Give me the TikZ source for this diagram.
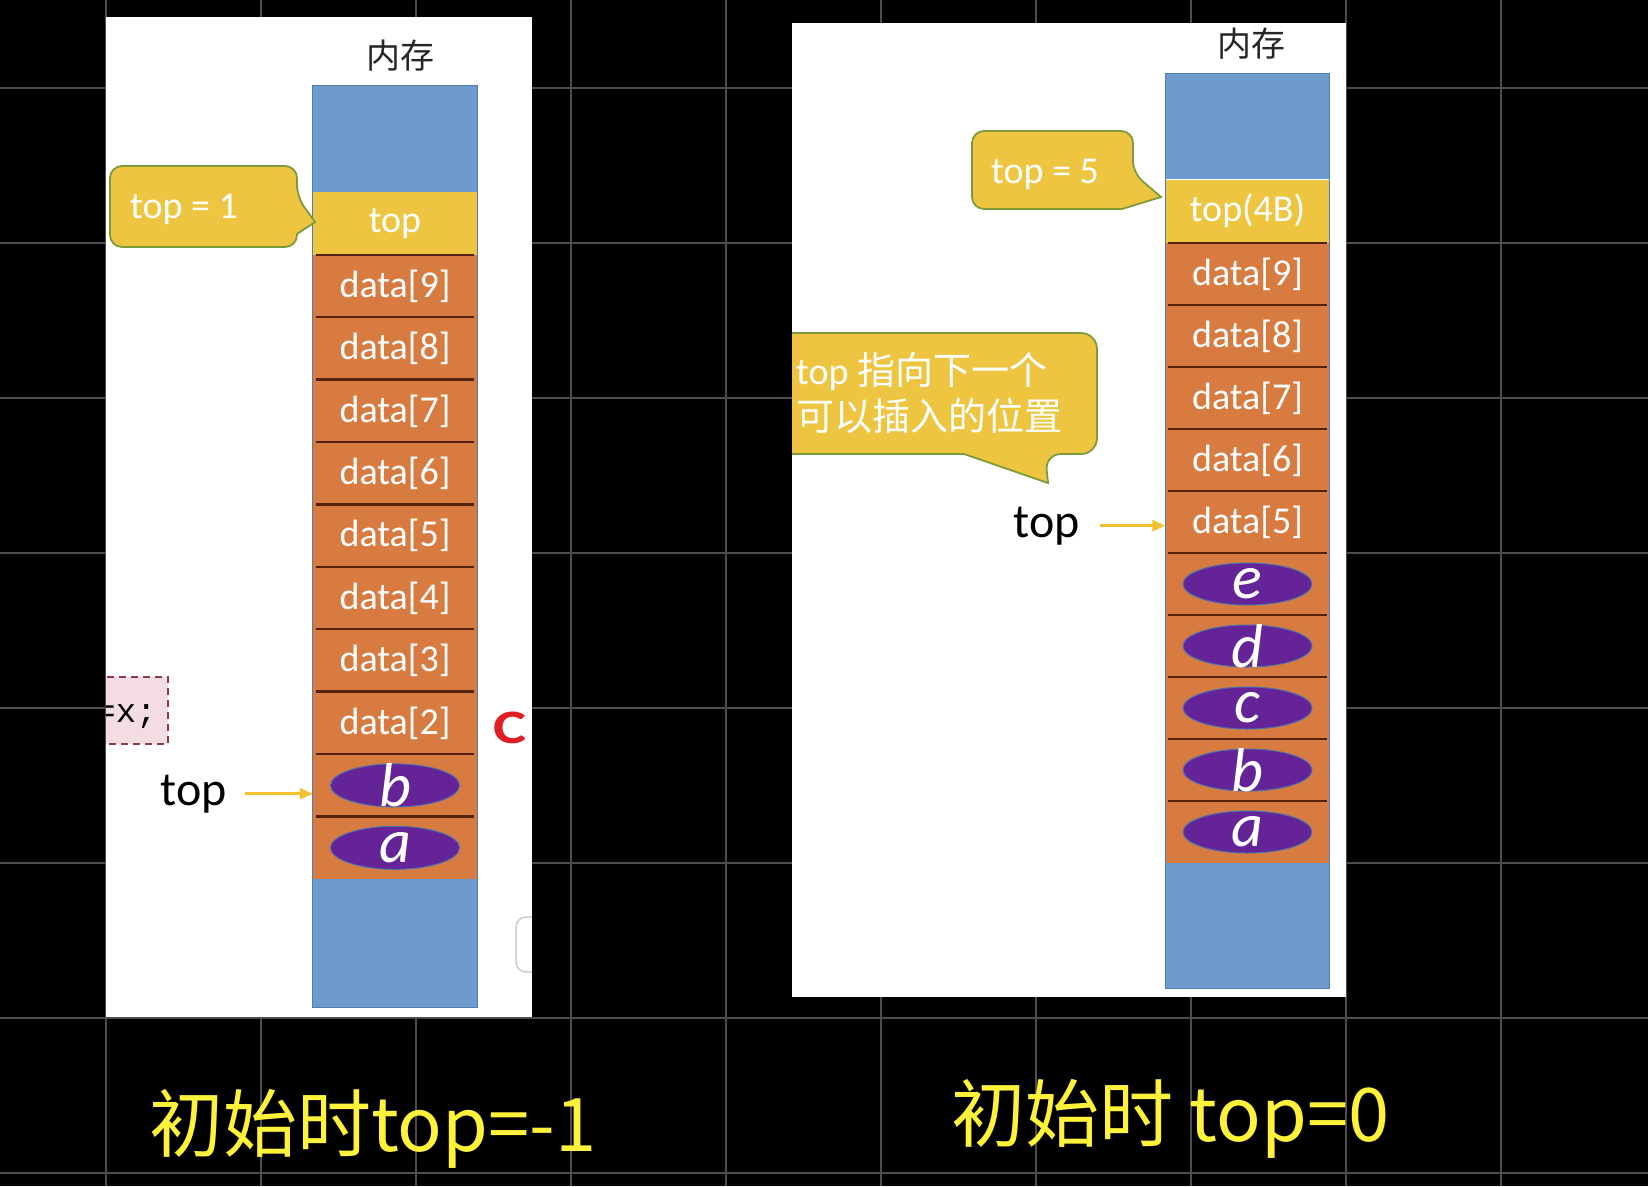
\documentclass[tikz,border=0pt]{standalone}
\usepackage{fontspec}
\setmainfont{Carlito}
\newfontfamily\cjk{Noto Sans CJK SC}
\newfontfamily\codefont{Liberation Mono}
\usetikzlibrary{shapes.geometric,arrows.meta}

\definecolor{memblue}{HTML}{6E9BCC}
\definecolor{colblue}{HTML}{4F7DB3}
\definecolor{memorange}{HTML}{D87B41}
\definecolor{memyellow}{HTML}{EEC541}
\definecolor{elpurple}{HTML}{642497}
\definecolor{elborder}{HTML}{4A6FB0}
\definecolor{sepbrown}{HTML}{55230D}
\definecolor{calloutgreen}{HTML}{7D9B3A}
\definecolor{arrowyellow}{HTML}{F2C12E}
\definecolor{handyellow}{HTML}{FFF23A}
\definecolor{gridgray}{HTML}{4D4D4D}
\definecolor{codepink}{HTML}{F4DDE2}
\definecolor{codered}{HTML}{8C3B4B}
\definecolor{markred}{HTML}{E01E24}

\tikzset{
  gridline/.style={draw=gridgray, line width=1.5pt},
  heading/.style={text=black!85, inner sep=0pt, anchor=base, font=\cjk\fontsize{34}{34}\selectfont},
  freeblock/.style={fill=memblue, minimum width=164pt, inner sep=0pt},
  cell/.style={fill=memorange, minimum width=164pt, minimum height=62.4pt, inner sep=0pt, text=white, font=\fontsize{38}{38}\selectfont},
  rcell/.style={cell, minimum height=62pt},
  topcell/.style={cell, fill=memyellow, minimum height=63pt},
  cellsep/.style={draw=sepbrown, line width=2.5pt},
  colline/.style={draw=colblue, line width=1pt},
  elem/.style={ellipse, fill=elpurple, draw=elborder, line width=1pt, minimum width=129pt, minimum height=43pt, inner sep=0pt},
  elemtext/.style={text=white, inner sep=0pt, font=\fontsize{62}{62}\itshape\selectfont},
  bubble/.style={fill=memyellow, draw=calloutgreen, line width=1.8pt},
  bubbletext/.style={text=white, inner sep=0pt, anchor=base, font=\fontsize{38}{38}\selectfont},
  notetext/.style={text=white, inner sep=0pt, anchor=base west, font=\fontsize{38}{38}\selectfont},
  toplabel/.style={text=black, inner sep=0pt, anchor=base, font=\fontsize{48}{48}\selectfont},
  ptr/.style={draw=arrowyellow, line width=2.5pt, -{Triangle[length=13pt,width=11pt]}},
  hand/.style={text=handyellow, inner sep=0pt, anchor=base west, font=\cjk\fontsize{74}{74}\selectfont},
}

\begin{document}
\begin{tikzpicture}[x=1pt,y=-1pt]
	\useasboundingbox (0,0) rectangle (1648,1186);
	\fill[black] (0,0) rectangle (1648,1186);
	\foreach \gx in {106,261,...,1501} \draw[gridline] (\gx,0) -- (\gx,1186);
	\foreach \gy in {88,243,...,1173} \draw[gridline] (0,\gy) -- (1648,\gy);

	% left panel
	\fill[white] (106,17) rectangle (532,1017);
	\begin{scope}
		\clip (106,17) rectangle (532,1017);
		\draw[codered, dash pattern=on 7pt off 5pt, line width=1.8pt, fill=codepink] (80,677) rectangle (168,744);
		\node[text=black, inner sep=0pt, anchor=base, font=\codefont\fontsize{34}{34}\selectfont] (code) at (126,722) {=x;};
		\draw[black!20, line width=1.5pt, rounded corners=10pt] (516,917) rectangle (560,972);
	\end{scope}
	\node[heading] (Lhead) at (400,68) {内存};
	\node[freeblock, minimum height=106pt] (Lfree) at (395,139) {};
	\node[topcell] (Ltop) at (395,223.5) {top};
	\node[cell] (Ld9) at (395,286.2) {data[9]};
	\node[cell] (Ld8) at (395,348.6) {data[8]};
	\node[cell] (Ld7) at (395,411) {data[7]};
	\node[cell] (Ld6) at (395,473.4) {data[6]};
	\node[cell] (Ld5) at (395,535.8) {data[5]};
	\node[cell] (Ld4) at (395,598.2) {data[4]};
	\node[cell] (Ld3) at (395,660.6) {data[3]};
	\node[cell] (Ld2) at (395,723) {data[2]};
	\node[cell] (Lc1) at (395,785.4) {};
	\node[cell] (Lc0) at (395,847.8) {};
	\node[freeblock, minimum height=128pt] (Lbot) at (395,943) {};
	\foreach \n in {Ld9,Ld8,Ld7,Ld6,Ld5,Ld4,Ld3,Ld2,Lc1,Lc0}
		\draw[cellsep] ([xshift=3pt]\n.north west) -- ([xshift=-3pt]\n.north east);
	\draw[colline] (Lfree.north west) rectangle (Lbot.south east);
	\node[elem, label={[elemtext]center:b}] (Lel-b) at (Lc1) {};
	\node[elem, label={[elemtext]center:a}] (Lel-a) at (Lc0) {};
	\draw[bubble, rounded corners=12pt] (110,166) -- (297,166) -- (297,197) [sharp corners] -- (315,222) -- (297,234) [rounded corners=12pt] -- (297,247) -- (110,247) -- cycle;
	\node[bubbletext] (Lval) at (184,218) {top = 1};
	\node[toplabel] (Ltoplab) at (194,805) {top};
	\draw[ptr] ([xshift=18pt]Ltoplab.east) -- (Ltoplab.east -| Lc1.west);
	\node[text=markred, inner sep=0pt, anchor=base, font=\bfseries\fontsize{48}{48}\selectfont] (mark) at (510,743) {\scalebox{1.3}[1]{C}};

	% right panel
	\fill[white] (792,23) rectangle (1346,997);
	\node[heading] (Rhead) at (1251,56) {内存};
	\node[freeblock, minimum height=105pt] (Rfree) at (1247.5,126.5) {};
	\node[topcell] (Rtop) at (1247.5,211) {top(4B)};
	\node[rcell] (Rd9) at (1247.5,274) {data[9]};
	\node[rcell] (Rd8) at (1247.5,336) {data[8]};
	\node[rcell] (Rd7) at (1247.5,398) {data[7]};
	\node[rcell] (Rd6) at (1247.5,460) {data[6]};
	\node[rcell] (Rd5) at (1247.5,522) {data[5]};
	\node[rcell] (Rc4) at (1247.5,584) {};
	\node[rcell] (Rc3) at (1247.5,646) {};
	\node[rcell] (Rc2) at (1247.5,708) {};
	\node[rcell] (Rc1) at (1247.5,770) {};
	\node[rcell] (Rc0) at (1247.5,832) {};
	\node[freeblock, minimum height=125pt] (Rbot) at (1247.5,925.5) {};
	\foreach \n in {Rd9,Rd8,Rd7,Rd6,Rd5,Rc4,Rc3,Rc2,Rc1,Rc0}
		\draw[cellsep] ([xshift=3pt]\n.north west) -- ([xshift=-3pt]\n.north east);
	\draw[colline] (Rfree.north west) rectangle (Rbot.south east);
	\node[elem, minimum height=42pt, label={[elemtext]center:e}] (Rel-e) at (Rc4) {};
	\node[elem, minimum height=42pt, label={[elemtext]center:d}] (Rel-d) at (Rc3) {};
	\node[elem, minimum height=42pt, label={[elemtext]center:c}] (Rel-c) at (Rc2) {};
	\node[elem, minimum height=42pt, label={[elemtext]center:b}] (Rel-b) at (Rc1) {};
	\node[elem, minimum height=42pt, label={[elemtext]center:a}] (Rel-a) at (Rc0) {};
	\draw[bubble, rounded corners=12pt] (972,131) -- (1133,131) -- (1133,173) [sharp corners] -- (1161,197) -- (1122,209) [rounded corners=12pt] -- (972,209) -- cycle;
	\node[bubbletext] (Rval) at (1045,183) {top = 5};
	\begin{scope}
		\clip (792,23) rectangle (1346,997);
		\draw[bubble, rounded corners=16pt] (770,333) -- (1097,333) -- (1097,454) -- (1045,454) [sharp corners] -- (1048,483) -- (964,454) [rounded corners=16pt] -- (770,454) -- cycle;
	\end{scope}
	\node[notetext] (Rnote1) at (796,384) {top {\cjk 指向下一个}};
	\node[notetext] (Rnote2) at (796,430) {\cjk 可以插入的位置};
	\node[toplabel] (Rtoplab) at (1047,537) {top};
	\draw[ptr] ([xshift=20pt]Rtoplab.east) -- (Rtoplab.east -| Rd5.west);

	% handwriting
	\node[hand] (Lnote) at (149,1151) {初始时top=-1};
	\node[hand] (Rnote) at (951,1141) {初始时 top=0};
\end{tikzpicture}
\end{document}
